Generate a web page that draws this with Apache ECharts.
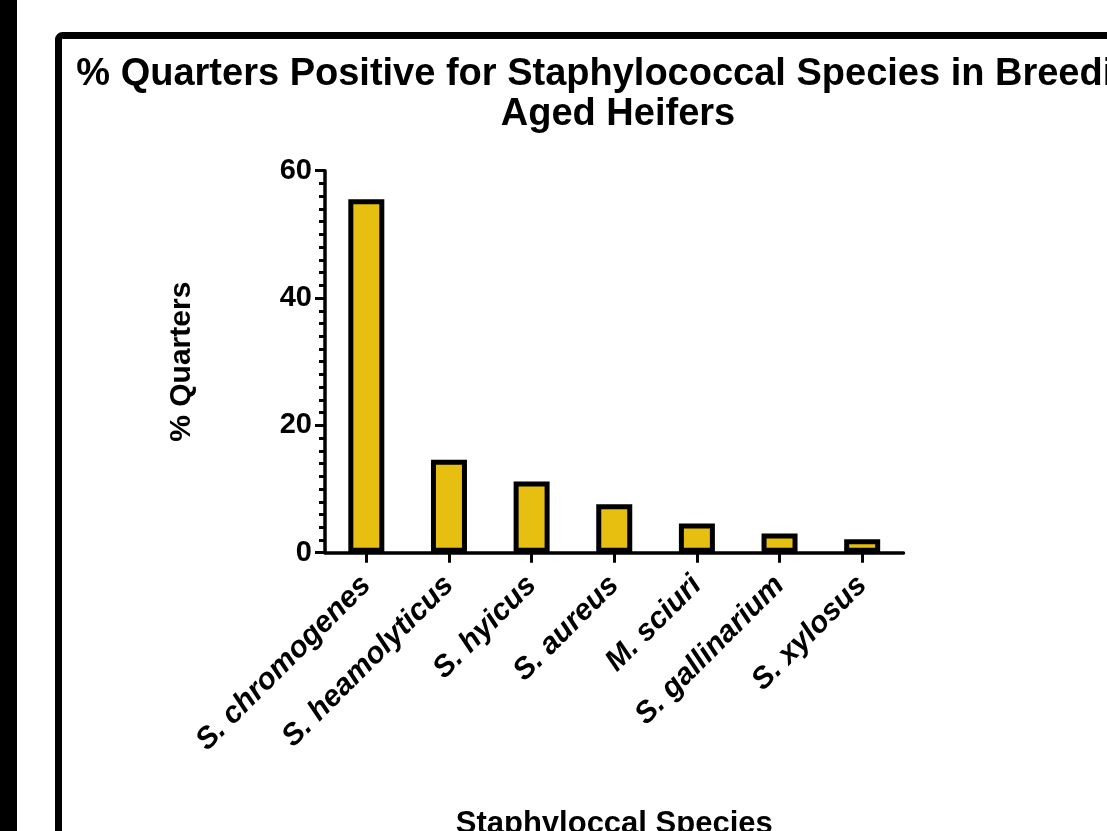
<!DOCTYPE html>
<html>
<head>
<meta charset="utf-8">
<script src="https://cdn.jsdelivr.net/npm/echarts@6/dist/echarts.min.js"></script>
<style>
html,body{margin:0;padding:0;background:#fff;}
#chart{width:1107px;height:831px;}
</style>
</head>
<body>
<div id="chart"></div>
<script>
const categories = ['S. chromogenes','S. heamolyticus','S. hyicus','S. aureus','M. sciuri','S. gallinarium','S. xylosus'];
const values = [55.5, 14.6, 11.2, 7.6, 4.6, 3.0, 2.1];
const yTicks = [0, 20, 40, 60];
const titleText = '% Quarters Positive for Staphylococcal Species in Breeding\nAged Heifers';
const yName = '% Quarters';
const xName = 'Staphyloccal Species';

const FONT = "'Liberation Sans', Arial, Helvetica, sans-serif";
const chart = echarts.init(document.getElementById('chart'));
chart.setOption({
  backgroundColor: '#ffffff',
  animation: false,
  title: {
    text: titleText,
    left: 613,
    top: 50,
    textAlign: 'center',
    textStyle: {fontFamily: FONT, fontWeight: 'bold', fontSize: 38, lineHeight: 40, color: '#000'}
  },
  graphic: [
    {type: 'rect', shape: {x: 0, y: 0, width: 17, height: 831}, style: {fill: '#000'}, silent: true},
    {type: 'rect', shape: {x: 58.5, y: 35.5, width: 1200, height: 1000, r: 4}, style: {fill: 'none', stroke: '#000', lineWidth: 7}, silent: true}
  ],
  grid: {left: 325, right: 203.5, top: 170.7, bottom: 278.3, containLabel: false, outerBoundsMode: 'none'},
  xAxis: {
    type: 'category',
    data: categories,
    name: xName,
    nameLocation: 'middle',
    nameGap: 256,
    nameTextStyle: {fontFamily: FONT, fontWeight: 'bold', fontSize: 31, color: '#000'},
    axisLine: {show: true, lineStyle: {color: '#000', width: 3.5}},
    axisTick: {show: true, alignWithLabel: true, length: 10, lineStyle: {color: '#000', width: 3}},
    axisLabel: {
      rotate: 45, margin: 28, interval: 0,
      fontFamily: FONT, fontWeight: 'bold', fontStyle: 'italic', fontSize: 30, color: '#000'
    },
    splitLine: {show: false}
  },
  yAxis: {
    type: 'value',
    min: yTicks[0], max: yTicks[yTicks.length - 1], interval: 20,
    name: yName,
    nameLocation: 'middle',
    nameGap: 128,
    nameTextStyle: {fontFamily: FONT, fontWeight: 'bold', fontSize: 30, color: '#000'},
    axisLine: {show: true, lineStyle: {color: '#000', width: 3.5}},
    axisTick: {show: true, length: 10, lineStyle: {color: '#000', width: 3}},
    minorTick: {show: true, splitNumber: 10, length: 6, lineStyle: {color: '#000', width: 3}},
    axisLabel: {margin: 13, fontFamily: FONT, fontWeight: 'bold', fontSize: 29, color: '#000'},
    splitLine: {show: false}
  },
  series: [{
    type: 'bar',
    data: values,
    barWidth: 36,
    itemStyle: {color: '#E6BF10', borderColor: '#000', borderWidth: 5}
  }]
});
</script>
</body>
</html>
